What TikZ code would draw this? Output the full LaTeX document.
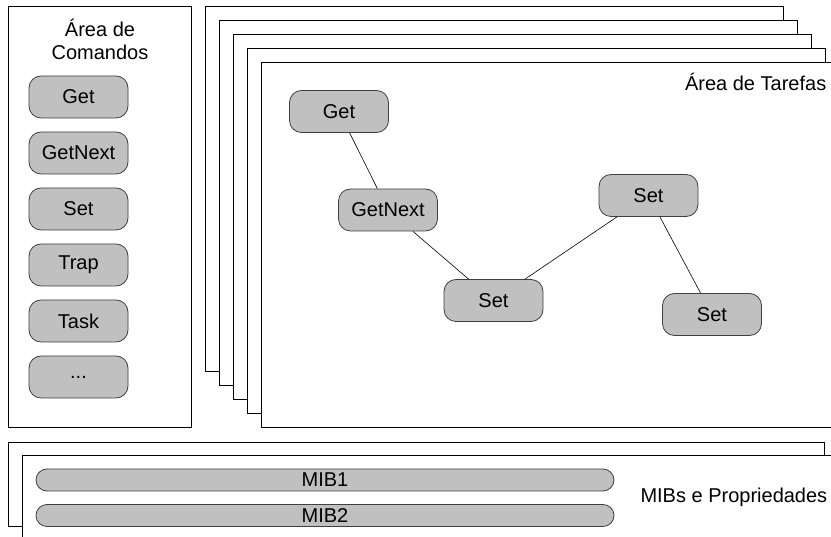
\documentclass[tikz,border=0pt]{standalone}
\usepackage{fontspec}
\setmainfont{Liberation Sans}
\usetikzlibrary{positioning}
\definecolor{ink}{HTML}{000000}
\definecolor{edge}{HTML}{404040}
\definecolor{btn}{HTML}{C0C0C0}

\begin{document}
\begin{tikzpicture}[
  x=1pt, y=-1pt, line width=0.8pt,
  font=\fontsize{20}{23}\selectfont,
  frame/.style={draw=ink, fill=white},
  cmd/.style={draw=edge, fill=btn, rounded corners=12pt, inner sep=0pt,
    minimum width=99pt, minimum height=42pt, text=ink},
  mib/.style={draw=edge, fill=btn, rounded corners=11pt, inner sep=0pt,
    minimum width=578pt, minimum height=22pt, text=ink},
  link/.style={draw=ink, line width=0.6pt}]

\useasboundingbox (0,0) rectangle (831,537);
\clip (0,0) rectangle (831,537);

% left column: command area
\draw[frame] (8,6) rectangle (191,427);
\node[align=center] (cmdtitle) at (100,39) {Área de\\Comandos};
\foreach \t/\n [count=\k] in {Get/cget, GetNext/cnext, Set/cset, Trap/ctrap, Task/ctask}
  \node[cmd] (\n) at (78.5, {97+56*(\k-1)}) {\t};
\node[cmd] (cmore) at (78.5,377) {.{}.{}.};

% task area: stacked sheets, front one last
\foreach \i in {0,...,4}
  \draw[frame] ({205+14*\i},{6+14*\i}) rectangle ({783+14*\i},{371+14*\i});
\node[anchor=east] (tasktitle) at (830,82) {Área de Tarefas};

\node[cmd] (tget)  at (339,111.5)   {Get};
\node[cmd] (tnext) at (388,210)     {GetNext};
\node[cmd] (tset1) at (493.5,300.5) {Set};
\node[cmd] (tset2) at (648.5,195.5) {Set};
\node[cmd] (tset3) at (712,314.5)   {Set};
\draw[link] (tget) -- (tnext);
\draw[link] (tnext) -- (tset1);
\draw[link] (tset1) -- (tset2);
\draw[link] (tset2) -- (tset3);

% bottom: MIBs and properties
\draw[frame] (8,442) rectangle (824,526);
\draw[frame] (22,455) rectangle (845,550);
\node[mib] (mib1) at (325,480)   {MIB1};
\node[mib] (mib2) at (325,515.5) {MIB2};
\node[anchor=east] (mibtitle) at (831,497) {MIBs e Propriedades};
\end{tikzpicture}
\end{document}
